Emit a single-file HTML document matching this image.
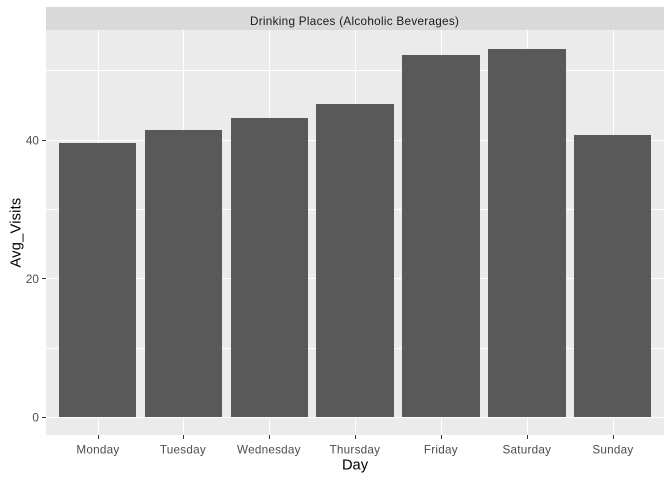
<!DOCTYPE html>
<html>
<head>
<meta charset="utf-8">
<style>
html,body{margin:0;padding:0;background:#fff;width:672px;height:480px;overflow:hidden}
svg{display:block}
text{font-family:"Liberation Sans",Arial,sans-serif}
line,rect{shape-rendering:crispEdges}
</style>
</head>
<body>
<svg id="chart" width="672" height="480" viewBox="0 0 672 480" xmlns="http://www.w3.org/2000/svg">
<rect x="0" y="0" width="672" height="480" fill="#ffffff"/>
<rect x="46" y="7" width="618" height="23" fill="#d9d9d9"/>
<text x="354.6" y="25" text-anchor="middle" font-size="11.7" letter-spacing="0.3" fill="#1a1a1a">Drinking Places (Alcoholic Beverages)</text>
<rect x="46" y="30" width="618" height="405" fill="#ebebeb"/>
<g id="grid"></g>
<g id="bars"></g>
<g id="xaxis"></g>
<g id="yaxis"></g>
<text x="355" y="469.7" text-anchor="middle" font-size="14.67" fill="#000000">Day</text>
<text transform="translate(20.6,232.5) rotate(-90)" text-anchor="middle" font-size="14.67" letter-spacing="0.2" fill="#000000">Avg_Visits</text>
</svg>
<script>
const categories = ["Monday","Tuesday","Wednesday","Thursday","Friday","Saturday","Sunday"];
const avgVisits = [39.6,41.5,43.2,45.2,52.3,53.2,40.8];
const yTicks = [0,20,40];
const yMinorTicks = [10,30,50];

const NS = "http://www.w3.org/2000/svg";
const panelLeft = 46, panelRight = 664, panelTop = 30, panelBottom = 435;
const bandStep = 85.83, firstCenter = 97.9, barWidth = 77;
const yZero = 417.3, yPerUnit = 6.93;
function xScale(i){ return firstCenter + i * bandStep; }
function yScale(v){ return yZero - v * yPerUnit; }
function gridX(i){ return Math.floor(xScale(i) + 0.2) + 0.5; }
function gridY(v){ return Math.floor(yScale(v)) + 0.5; }
function make(tag, attrs, parent){
  const el = document.createElementNS(NS, tag);
  for (const k in attrs) el.setAttribute(k, attrs[k]);
  parent.appendChild(el);
  return el;
}
const grid = document.getElementById("grid");
const bars = document.getElementById("bars");
const xaxis = document.getElementById("xaxis");
const yaxis = document.getElementById("yaxis");

yMinorTicks.forEach(function(v){
  const l = make("line", {x1:panelLeft, x2:panelRight, y1:gridY(v), y2:gridY(v), stroke:"#ffffff", "stroke-width":1}, grid);
  
  
});
yTicks.forEach(function(v){
  const l = make("line", {x1:panelLeft, x2:panelRight, y1:gridY(v), y2:gridY(v), stroke:"#ffffff", "stroke-width":1}, grid);
  
  
  const t = make("line", {x1:42, x2:46, y1:gridY(v), y2:gridY(v), stroke:"#333333", "stroke-width":1}, yaxis);
  
  
  const lab = make("text", {x:38.9, y:yScale(v)+4.4, "text-anchor":"end", "font-size":11.7, fill:"#4d4d4d"}, yaxis);
  lab.textContent = String(v);
  
  
});
categories.forEach(function(c,i){
  const x = gridX(i);
  const l = make("line", {x1:x, x2:x, y1:panelTop, y2:panelBottom, stroke:"#ffffff", "stroke-width":1}, grid);
  
  
  const t = make("line", {x1:x, x2:x, y1:panelBottom, y2:439, stroke:"#333333", "stroke-width":1}, xaxis);
  
  
  const lab = make("text", {x:x-0.6, y:453.3, "text-anchor":"middle", "font-size":11.7, "letter-spacing":0.25, fill:"#4d4d4d"}, xaxis);
  lab.textContent = c;
  
  
  const left = Math.floor(xScale(i) - barWidth / 2);
  const right = Math.round(xScale(i) + barWidth / 2);
  const top = Math.round(yScale(avgVisits[i]));
  const bottom = Math.floor(yScale(0));
  const b = make("rect", {x:left, y:top, width:right-left, height:bottom-top, fill:"#595959"}, bars);
  
  
});
</script>
</body>
</html>
